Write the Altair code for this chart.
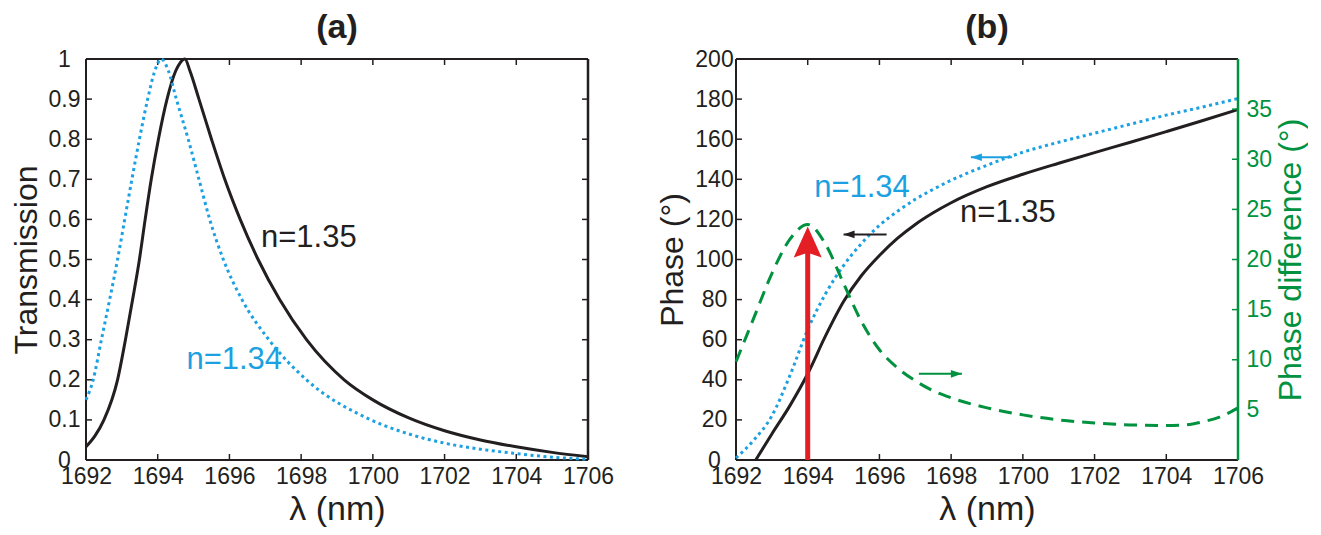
import altair as alt
import pandas as pd

# ---------------- data: panel (a) transmission ----------------
wl_t135 = [1692, 1692.25, 1692.5, 1692.88, 1693.1, 1693.3, 1693.49, 1693.65, 1693.82, 1694.02, 1694.26,
           1694.5, 1694.62, 1694.76, 1694.9, 1695.15, 1695.5, 1695.87, 1696.3, 1696.8, 1697.4, 1698.15,
           1699.2, 1700, 1701, 1702, 1703, 1704, 1705, 1706]
t135 = [0.033, 0.06, 0.1, 0.2, 0.3, 0.4, 0.5, 0.6, 0.7, 0.8, 0.9,
        0.97, 0.99, 1.0, 0.97, 0.9, 0.8, 0.7, 0.6, 0.5, 0.4, 0.3,
        0.2, 0.15, 0.105, 0.073, 0.05, 0.033, 0.019, 0.008]
wl_t134 = [1692, 1692.2, 1692.43, 1692.66, 1692.88, 1693.08, 1693.28, 1693.49, 1693.72, 1693.9, 1694.1,
           1694.3, 1694.52, 1694.85, 1695.15, 1695.45, 1695.83, 1696.35, 1697.1, 1698.15, 1699.95,
           1701, 1702, 1703, 1704, 1705, 1706]
t134 = [0.15, 0.2, 0.3, 0.4, 0.5, 0.6, 0.7, 0.8, 0.9, 0.965, 1.0,
        0.97, 0.9, 0.8, 0.7, 0.6, 0.5, 0.4, 0.3, 0.2, 0.1,
        0.065, 0.042, 0.027, 0.016, 0.007, 0.002]

# ---------------- data: panel (b) phase ----------------
wl_p135 = [1692.55, 1693, 1693.5, 1694, 1694.5, 1695, 1695.5, 1696, 1696.5, 1697, 1697.5, 1698,
           1699, 1700, 1701, 1702, 1703, 1704, 1705, 1706]
p135 = [0, 13, 27, 43, 62, 79, 92, 102, 110.5, 117.5, 123.3, 128.3,
        136.3, 142.5, 148, 153.3, 158.5, 163.8, 169.2, 174.8]
wl_p134 = [1692, 1692.5, 1693, 1693.5, 1694, 1694.5, 1695, 1695.5, 1696, 1696.5, 1697, 1697.5, 1698,
           1699, 1700, 1701, 1702, 1703, 1704, 1705, 1706]
p134 = [1, 10, 22, 42, 65, 83, 97, 108, 117, 124, 130, 135, 139.5,
        147, 153.5, 158.5, 163, 167.5, 172, 176, 180.3]
wl_diff = [1692, 1692.5, 1693, 1693.5, 1694, 1694.5, 1695, 1695.5, 1696, 1696.5, 1697, 1697.5, 1698,
           1699, 1700, 1701, 1702, 1703, 1704, 1704.5, 1705, 1705.5, 1706]
pdiff = [9.8, 14.2, 18.6, 22, 23.5, 21.5, 17.6, 13.8, 11, 9.2, 7.9, 6.9, 6.2,
         5.2, 4.5, 4.0, 3.7, 3.5, 3.45, 3.5, 3.8, 4.3, 5.2]

# annotations
red_arrow_x = [1694]
red_arrow_y0 = [0]
red_arrow_y1 = [104]
red_arrow_tip = [116.5]
small_arrow_tail = [1696.2, 1699.7, 1697.1]
small_arrow_tip = [1695.0, 1698.55, 1698.3]
small_arrow_y = [112.5, 151, 43]
small_arrow_dir = ["left", "left", "right"]
small_arrow_col = ["#231f20", "#1ba1e2", "#00923f"]

labels_a_text = ["n=1.35", "n=1.34"]
labels_a_x = [1696.88, 1694.8]
labels_a_y = [0.553, 0.25]
labels_b_text = ["n=1.34", "n=1.35"]
labels_b_x = [1694.18, 1698.25]
labels_b_y = [135.8, 123.3]
label_cols = ["#231f20", "#1ba1e2"]

x_ticks = [1692, 1694, 1696, 1698, 1700, 1702, 1704, 1706]
ya_ticks = [0, 0.1, 0.2, 0.3, 0.4, 0.5, 0.6, 0.7, 0.8, 0.9, 1]
yb_ticks = [0, 20, 40, 60, 80, 100, 120, 140, 160, 180, 200]
yr_ticks = [5, 10, 15, 20, 25, 30, 35]

# ---------------- style ----------------
W, H = 502, 401
BLACK = "#231f20"
BLUE = "#1ba1e2"
GREEN = "#00923f"
RED = "#e31e24"
FONT = "Liberation Sans"
TICK = 23
TITLE = 32
TL = 6  # inward tick length
ANN = 31


def xenc():
    return alt.X("x:Q", scale=alt.Scale(domain=[1692, 1706], nice=False, zero=False),
                 axis=alt.Axis(values=x_ticks, format="d", title="λ (nm)", tickSize=0, domain=False,
                               grid=False, labelFont=FONT, labelFontSize=TICK, labelColor=BLACK,
                               labelPadding=5, labelFlush=False, labelOverlap=False,
                               titleFont=FONT, titleFontSize=34, titleFontWeight="normal",
                               titleColor=BLACK, titlePadding=4))


def yenc(domain, ticks, title, fmt, orient="left", color=BLACK, field="y"):
    if orient == "left":
        ax = alt.Axis(values=ticks, format=fmt, title=title, orient="left", tickSize=0, domain=False,
                      grid=False, labelFont=FONT, labelFontSize=TICK, labelColor=color,
                      labelAlign="center", labelPadding=22, labelFlush=False, labelOverlap=False,
                      titleFont=FONT, titleFontSize=TITLE, titleFontWeight="normal",
                      titleColor=color, titlePadding=5)
    else:
        ax = alt.Axis(values=ticks, format=fmt, title=title, orient="right", tickSize=0, domain=False,
                      grid=False, labelFont=FONT, labelFontSize=TICK, labelColor=color,
                      labelAlign="left", labelPadding=8, labelFlush=False, labelOverlap=False,
                      titleFont=FONT, titleFontSize=TITLE, titleFontWeight="normal",
                      titleColor=color, titlePadding=4, titleAngle=270, titleBaseline="top")
    return alt.Y(f"{field}:Q", scale=alt.Scale(domain=domain, nice=False, zero=False), axis=ax)


one = pd.DataFrame({"k": [0]})


def frame(right_color=BLACK):
    base = alt.Chart(one)
    top = base.mark_rule(color=BLACK, strokeWidth=2).encode(x=alt.value(0), x2=alt.value(W), y=alt.value(0))
    bot = base.mark_rule(color=BLACK, strokeWidth=2).encode(x=alt.value(0), x2=alt.value(W), y=alt.value(H))
    left = base.mark_rule(color=BLACK, strokeWidth=2).encode(x=alt.value(0), y=alt.value(0), y2=alt.value(H))
    right = base.mark_rule(color=right_color, strokeWidth=2.5).encode(x=alt.value(W), y=alt.value(0), y2=alt.value(H))
    return [top, bot, left, right]


def xticks_layers():
    d = pd.DataFrame({"x": x_ticks})
    b = alt.Chart(d).mark_rule(color=BLACK, strokeWidth=1.5).encode(x=xenc(), y=alt.value(H), y2=alt.value(H - TL))
    t = alt.Chart(d).mark_rule(color=BLACK, strokeWidth=1.5).encode(x=xenc(), y=alt.value(0), y2=alt.value(TL))
    return [b, t]


def yticks_layers(ticks, yen, sides=("left", "right"), color=BLACK):
    d = pd.DataFrame({"y": ticks})
    out = []
    if "left" in sides:
        out.append(alt.Chart(d).mark_rule(color=color, strokeWidth=1.5).encode(y=yen, x=alt.value(0), x2=alt.value(TL)))
    if "right" in sides:
        out.append(alt.Chart(d).mark_rule(color=color, strokeWidth=1.5).encode(y=yen, x=alt.value(W - TL), x2=alt.value(W)))
    return out


# ---------------- panel (a) ----------------
ya = lambda: yenc([0, 1], ya_ticks, "Transmission", "~g")
df135 = pd.DataFrame({"x": wl_t135, "y": t135})
df134 = pd.DataFrame({"x": wl_t134, "y": t134})
line135 = alt.Chart(df135).mark_line(color=BLACK, strokeWidth=3, interpolate="monotone").encode(x=xenc(), y=ya())
line134 = alt.Chart(df134).mark_line(color=BLUE, strokeWidth=3, strokeDash=[3, 3.5], interpolate="monotone").encode(x=xenc(), y=ya())
dla = pd.DataFrame({"x": labels_a_x, "y": labels_a_y, "t": labels_a_text, "c": label_cols})
texta = alt.Chart(dla).mark_text(font=FONT, fontSize=ANN, align="left", baseline="middle").encode(
    x=xenc(), y=ya(), text="t:N", color=alt.Color("c:N", scale=None))

panel_a = alt.layer(*frame(), *xticks_layers(), *yticks_layers(ya_ticks, ya()), line135, line134, texta).properties(
    width=W, height=H,
    title=alt.TitleParams("(a)", font=FONT, fontSize=34, fontWeight="bold", color=BLACK, offset=3, frame="group"))

# ---------------- panel (b) ----------------
yb = lambda: yenc([0, 200], yb_ticks, "Phase (°)", "d")
yr = lambda: yenc([0, 40], yr_ticks, "Phase difference (°)", "d", orient="right", color=GREEN)

dp135 = pd.DataFrame({"x": wl_p135, "y": p135})
dp134 = pd.DataFrame({"x": wl_p134, "y": p134})
ddiff = pd.DataFrame({"x": wl_diff, "y": pdiff})

ph135 = alt.Chart(dp135).mark_line(color=BLACK, strokeWidth=3, interpolate="monotone").encode(x=xenc(), y=yb())
ph134 = alt.Chart(dp134).mark_line(color=BLUE, strokeWidth=3, strokeDash=[3, 3.5], interpolate="monotone").encode(x=xenc(), y=yb())

dred = pd.DataFrame({"x": red_arrow_x, "y": red_arrow_y0, "y2": red_arrow_y1, "tip": red_arrow_tip})
red_shaft = alt.Chart(dred).mark_rule(color=RED, strokeWidth=5).encode(x=xenc(), y=yb(), y2="y2:Q")
red_head = alt.Chart(dred).mark_point(shape="M0,0 L0.9,2 L0,1.7 L-0.9,2 Z", size=961, filled=True,
                                      color=RED, opacity=1, strokeWidth=0).encode(
    x=xenc(), y=alt.Y("tip:Q", scale=alt.Scale(domain=[0, 200], nice=False, zero=False)))

dsa = pd.DataFrame({"x": small_arrow_tail, "x2": small_arrow_tip, "y": small_arrow_y,
                    "d": small_arrow_dir, "c": small_arrow_col})
sa_shaft = alt.Chart(dsa).mark_rule(strokeWidth=2).encode(x=xenc(), x2="x2:Q", y=yb(),
                                                          color=alt.Color("c:N", scale=None))
heads = []
for direction, path in (("left", "M0,0 L2,-0.7 L2,0.7 Z"), ("right", "M0,0 L-2,-0.7 L-2,0.7 Z")):
    heads.append(alt.Chart(dsa).transform_filter(alt.datum.d == direction).mark_point(
        shape=path, size=121, filled=True, opacity=1, strokeWidth=0).encode(
        x=alt.X("x2:Q", scale=alt.Scale(domain=[1692, 1706], nice=False, zero=False)),
        y=yb(), color=alt.Color("c:N", scale=None)))

dlb = pd.DataFrame({"x": labels_b_x, "y": labels_b_y, "t": labels_b_text, "c": [BLUE, BLACK]})
textb = alt.Chart(dlb).mark_text(font=FONT, fontSize=ANN, align="left", baseline="middle").encode(
    x=xenc(), y=yb(), text="t:N", color=alt.Color("c:N", scale=None))

left_layer = alt.layer(*frame(right_color=GREEN)[:3], *xticks_layers(),
                       *yticks_layers(yb_ticks, yb(), sides=("left",)),
                       ph135, ph134, red_shaft, red_head, sa_shaft, *heads, textb)

green_line = alt.Chart(ddiff).mark_line(color=GREEN, strokeWidth=3, strokeDash=[13, 8],
                                         interpolate="monotone").encode(x=xenc(), y=yr())
right_layer = alt.layer(frame(right_color=GREEN)[3],
                        *yticks_layers(yr_ticks, yr(), sides=("right",), color=GREEN),
                        green_line)

panel_b = alt.layer(left_layer, right_layer).resolve_scale(y="independent").properties(
    width=W, height=H,
    title=alt.TitleParams("(b)", font=FONT, fontSize=34, fontWeight="bold", color=BLACK, offset=3, frame="group"))

chart = alt.hconcat(panel_a, panel_b, spacing=148, bounds="flush").properties(
    padding={"left": 1, "top": 2, "right": 0, "bottom": 0}
).configure_view(stroke=None).configure(background="white")

chart.save("out.html", embed_options={"renderer": "svg", "actions": False})
